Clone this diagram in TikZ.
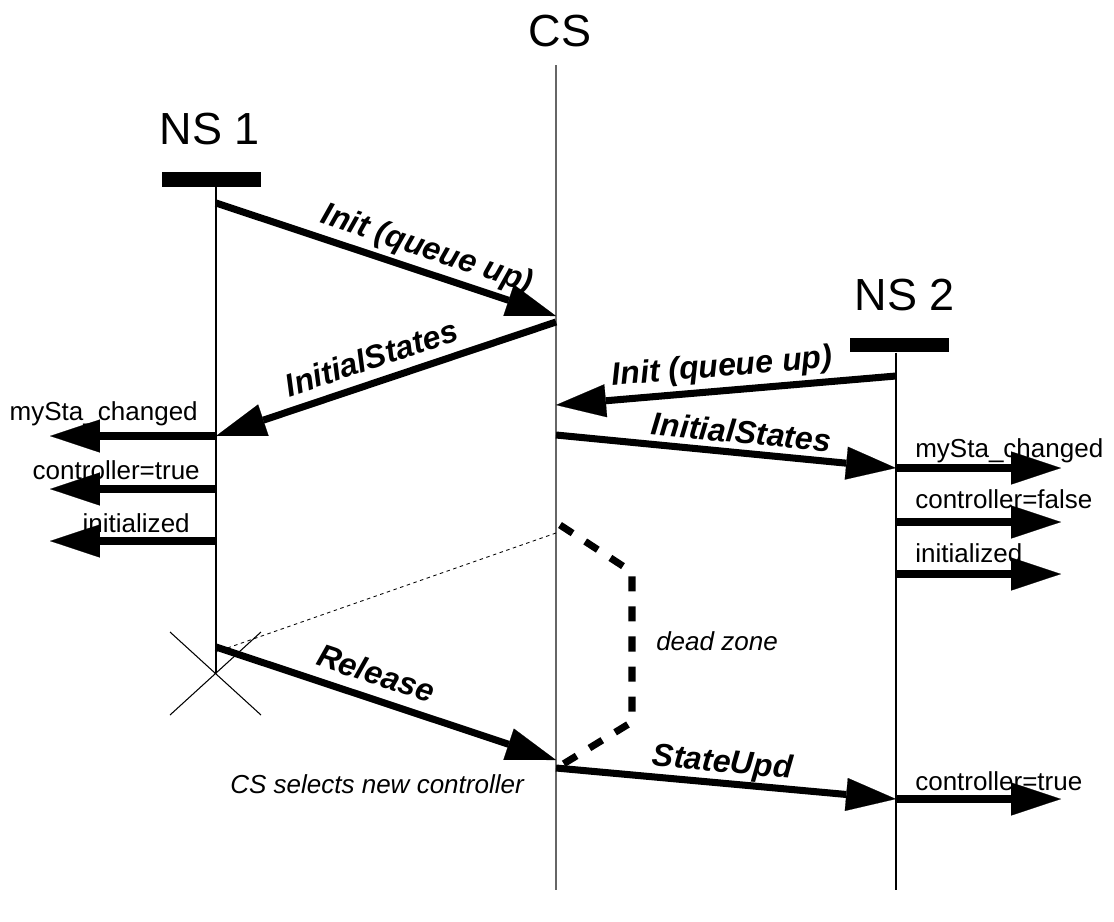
\documentclass[tikz,border=0pt]{standalone}
\usepackage{fontspec}
\setmainfont{Liberation Sans}
\usetikzlibrary{arrows.meta}

\begin{document}
\begin{tikzpicture}[x=0.025cm,y=-0.025cm,
  title/.style={font=\fontsize{32}{38}\selectfont,inner sep=0pt,anchor=base},
  bar/.style={fill=black,inner sep=0pt,minimum width=70.4pt,minimum height=10.3pt},
  lifeline/.style={line width=0.75pt},
  msg/.style={line width=5pt,-{Triangle[length=35.5pt,width=23.5pt,line width=0.1pt]}},
  msglabel/.style={font=\fontsize{22.8}{26}\selectfont\bfseries\itshape,sloped,inner sep=0pt},
  evt/.style={font=\fontsize{18.5}{22}\selectfont,inner sep=0pt},
  note/.style={font=\fontsize{18.5}{22}\selectfont\itshape,inner sep=0pt,anchor=base west}]

\useasboundingbox (0,0) rectangle (1114,922);

% participants
\node[title] (cs) at (560,46) {CS};
\node[title] (ns1) at (210,144) {NS 1};
\node[title] (ns2) at (905,310) {NS 2};
\node[bar] (barOne) at (211.5,179.5) {};
\node[bar] (barTwo) at (899.5,345) {};

% points on the lifelines
\coordinate (csTop) at (556,65);   \coordinate (csBot) at (556,890);
\coordinate (csA) at (556,316);    \coordinate (csB) at (556,322);
\coordinate (csC) at (556,405);    \coordinate (csD) at (556,435);
\coordinate (csE) at (556,533);    \coordinate (csF) at (556,760);
\coordinate (csG) at (556,768);
\coordinate (nsOneA) at (216,203); \coordinate (nsOneB) at (216,436);
\coordinate (nsOneC) at (216,489); \coordinate (nsOneD) at (216,541);
\coordinate (nsOneE) at (216,652); \coordinate (nsOneF) at (216,647);
\coordinate (nsOneEnd) at (216,673);
\coordinate (nsTwoA) at (896,376); \coordinate (nsTwoB) at (896,468);
\coordinate (nsTwoC) at (896,522); \coordinate (nsTwoD) at (896,574);
\coordinate (nsTwoE) at (896,799); \coordinate (nsTwoBot) at (896,890);

% lifelines
\draw[lifeline,draw=black!60] (csTop) -- (csBot);
\draw[lifeline] (barOne.south -| nsOneEnd) -- (nsOneEnd);
\draw[lifeline] (barTwo.south -| nsTwoBot) -- (nsTwoBot);
\draw[lifeline] (170,632) -- (261,715) (170,715) -- (261,632);

% local events
\node[evt,anchor=base east] (evOneA) at (198,420) {mySta\_changed};
\node[evt,anchor=base east] (evOneB) at (200,479) {controller=true};
\node[evt,anchor=base east] (evOneC) at (190,532) {initialized};
\node[evt,anchor=base west] (evTwoA) at (915,457) {mySta\_changed};
\node[evt,anchor=base west] (evTwoB) at (915,508) {controller=false};
\node[evt,anchor=base west] (evTwoC) at (915,562) {initialized};
\node[evt,anchor=base west] (evTwoD) at (915,790) {controller=true};

\coordinate (outOneA) at (50,436);   \coordinate (outOneB) at (50,489);
\coordinate (outOneC) at (50,541);
\coordinate (outTwoA) at (1061,468); \coordinate (outTwoB) at (1061,522);
\coordinate (outTwoC) at (1061,574); \coordinate (outTwoD) at (1061,799);

\draw[msg] (nsOneB) -- (outOneA);
\draw[msg] (nsOneC) -- (outOneB);
\draw[msg] (nsOneD) -- (outOneC);
\draw[msg] (nsTwoB) -- (outTwoA);
\draw[msg] (nsTwoC) -- (outTwoB);
\draw[msg] (nsTwoD) -- (outTwoC);
\draw[msg] (nsTwoE) -- (outTwoD);

% messages
\draw[msg] (nsOneA) -- node[msglabel,pos=0.6,above=2.5pt] {Init (queue up)} (csA);
\draw[msg] (csB) -- node[msglabel,pos=0.52,above=6.9pt] {InitialStates} (nsOneB);
\draw[msg] (nsTwoA) -- node[msglabel,pos=0.506,above=3pt] {Init (queue up)} (csC);
\draw[msg] (csD) -- node[msglabel,pos=0.54,above=4pt] {InitialStates} (nsTwoB);
\draw[msg] (nsOneF) -- node[msglabel,pos=0.447,above=7.5pt] {Release} (csF);
\draw[msg] (csG) -- node[msglabel,pos=0.485,above=0.5pt] {StateUpd} (nsTwoE);

% dead zone
\draw[line width=0.6pt,dash pattern=on 2.5pt off 2.5pt] (csE) -- (nsOneE);
\coordinate (dzA) at (560,525); \coordinate (dzB) at (632,572);
\coordinate (dzC) at (632,722); \coordinate (dzD) at (560,766);
\draw[line width=5pt,dash pattern=on 10.7pt off 10.7pt] (dzA) -- (dzB) -- (dzC) -- (dzD);
\node[note] (dead) at (656,650) {dead zone};
\node[note] (select) at (230,793) {CS selects new controller};

\end{tikzpicture}
\end{document}
